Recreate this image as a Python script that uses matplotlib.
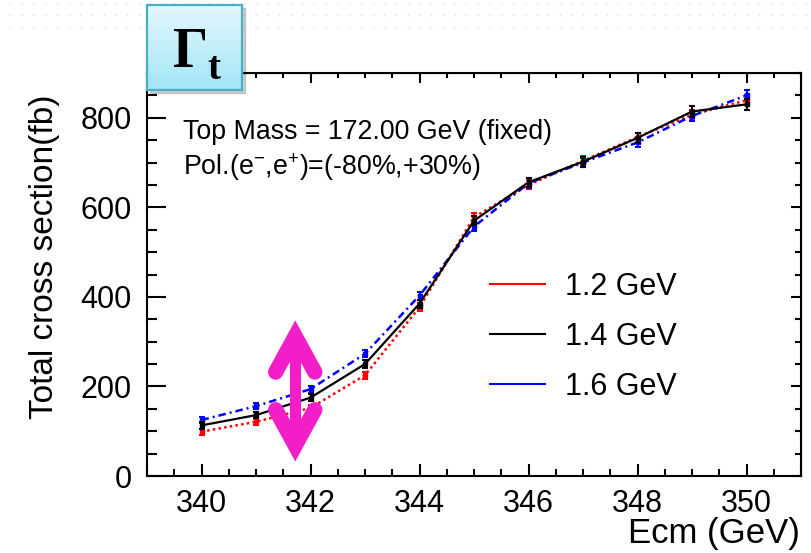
import matplotlib
matplotlib.use('Agg')
import matplotlib.pyplot as plt
from matplotlib.lines import Line2D
from matplotlib.patches import Rectangle
from matplotlib.colors import LinearSegmentedColormap
from matplotlib.ticker import MultipleLocator
import numpy as np

plt.rcParams['font.family'] = ['Liberation Sans', 'DejaVu Sans']
plt.rcParams['mathtext.fontset'] = 'custom'
plt.rcParams['mathtext.rm'] = 'Liberation Sans'
plt.rcParams['mathtext.it'] = 'Liberation Sans:italic'
plt.rcParams['mathtext.bf'] = 'Liberation Sans:bold'

# centre-of-mass energies (GeV)
ecm = [340, 341, 342, 343, 344, 345, 346, 347, 348, 349, 350]

# total cross section (fb) for each top width
xs_12 = [99, 121, 152, 225, 377, 578, 650, 704, 757, 807, 839]
xs_14 = [113, 136, 175, 250, 385, 570, 656, 702, 755, 814, 830]
xs_16 = [125, 156, 194, 273, 403, 557, 654, 700, 745, 804, 850]

err_12 = [7, 7, 7, 8, 9, 10, 10, 10, 10, 11, 11]
err_14 = [7, 7, 8, 8, 9, 10, 10, 11, 11, 12, 12]
err_16 = [7, 7, 8, 8, 9, 10, 11, 11, 11, 12, 12]

width_labels = ['1.2 GeV', '1.4 GeV', '1.6 GeV']

W, H = 811, 553
fig = plt.figure(figsize=(W / 100, H / 100), dpi=100)

# faint dotted background band at the top
bg = fig.add_axes([0, 0, 1, 1], zorder=-5)
bg.set_xlim(0, W)
bg.set_ylim(H, 0)
bg.axis('off')
dot_x, dot_y = np.meshgrid(np.arange(10, W, 11.7), [3, 15, 27])
bg.scatter(dot_x.ravel(), dot_y.ravel(), s=1.5, color='#d3e6ee', linewidths=0)

# main axes
ax = fig.add_axes([147 / W, 77 / H, 654 / W, 403 / H])
ax.set_xlim(339, 351)
ax.set_ylim(0, 900)
ax.set_xticks(range(340, 351, 2))
ax.set_yticks([0, 200, 400, 600, 800])
ax.xaxis.set_minor_locator(MultipleLocator(0.5))
ax.yaxis.set_minor_locator(MultipleLocator(50))
for s in ax.spines.values():
    s.set_linewidth(1.5)
ax.tick_params(axis='both', which='both', direction='in', width=1.5, labelsize=22)
ax.tick_params(axis='x', which='major', length=9, pad=9)
ax.tick_params(axis='x', which='minor', length=5)
ax.tick_params(axis='y', which='major', length=14, pad=11)
ax.tick_params(axis='y', which='minor', length=7.5)

top = ax.secondary_xaxis('top')
top.set_xticks(range(340, 351, 2))
top.xaxis.set_minor_locator(MultipleLocator(0.5))
top.tick_params(which='both', direction='in', width=1.5, labeltop=False)
top.tick_params(which='major', length=7)
top.tick_params(which='minor', length=3.5)

right = ax.secondary_yaxis('right')
right.set_yticks([0, 200, 400, 600, 800])
right.yaxis.set_minor_locator(MultipleLocator(50))
right.tick_params(which='both', direction='in', width=1.5, labelright=False)
right.tick_params(which='major', length=7.5)
right.tick_params(which='minor', length=4.5)

ax.errorbar(ecm, xs_12, yerr=err_12, color='red', lw=1.8, dashes=(1, 1.3),
            marker='s', ms=3, capsize=2.5, elinewidth=1.5, capthick=1.5, zorder=3)
ax.errorbar(ecm, xs_14, yerr=err_14, color='black', lw=1.6, ls='-',
            marker='s', ms=3, capsize=2.5, elinewidth=1.5, capthick=1.5, zorder=4)
ax.errorbar(ecm, xs_16, yerr=err_16, color='blue', lw=1.8, dashes=(3, 1.6, 0.8, 1.6),
            marker='s', ms=3, capsize=2.5, elinewidth=1.5, capthick=1.5, zorder=3)

handles = [Line2D([], [], color=c, lw=1.5) for c in ['red', 'black', 'blue']]
ax.legend(handles, width_labels, loc='upper left', bbox_to_anchor=(0.5245, 0.507),
          frameon=False, fontsize=22, handlelength=1.8, handletextpad=0.65,
          labelspacing=0.66, borderpad=0, borderaxespad=0)

# pink double arrow showing the width dependence
pink = '#f21fc8'
ax.plot([341.72, 341.72], [290, 90], color=pink, lw=8, solid_capstyle='butt',
        zorder=6, clip_on=False)
ax.plot([341.36, 341.72, 342.08], [232, 312, 232], color=pink, lw=11,
        solid_capstyle='round', solid_joinstyle='miter', zorder=6)
ax.plot([341.36, 341.72, 342.08], [148, 68, 148], color=pink, lw=11,
        solid_capstyle='round', solid_joinstyle='miter', zorder=6)

# info text
fig.text(183 / W, 1 - 139 / H, 'Top Mass = 172.00 GeV (fixed)', fontsize=19.3,
         va='baseline', ha='left')
fig.text(183 / W, 1 - 175 / H, r'Pol.(e$^{-}$,e$^{+}$)=(-80%,+30%)', fontsize=19.3,
         va='baseline', ha='left')

# axis titles
fig.text(45 / W, 1 - 95 / H, 'Total cross section(fb)', rotation=90, fontsize=24,
         ha='center', va='top')
fig.text(800 / W, 1 - 533 / H, 'Ecm (GeV)', fontsize=25, ha='right', va='center')

# Gamma_t label box
fig.patches.append(Rectangle((150 / W, 1 - 93 / H), 95 / W, 85 / H,
                             transform=fig.transFigure, color='#000000', alpha=0.18,
                             zorder=8))
box = fig.add_axes([147 / W, 1 - 90 / H, 95 / W, 85 / H], zorder=9)
cmap = LinearSegmentedColormap.from_list('cyan', ['#e3f8fd', '#a3e5f6'])
box.imshow(np.linspace(0, 1, 128).reshape(-1, 1), cmap=cmap, aspect='auto')
box.set_xticks([])
box.set_yticks([])
for s in box.spines.values():
    s.set_color('#4aaec8')
    s.set_linewidth(1.6)
box.text(0.27, 0.27, 'Γ', transform=box.transAxes, fontsize=40, fontweight='bold',
         family='Liberation Serif', va='baseline', ha='left')
box.text(0.64, 0.13, 't', transform=box.transAxes, fontsize=28, fontweight='bold',
         family='Liberation Serif', va='baseline', ha='left')

fig.savefig('out.png', dpi=100)
